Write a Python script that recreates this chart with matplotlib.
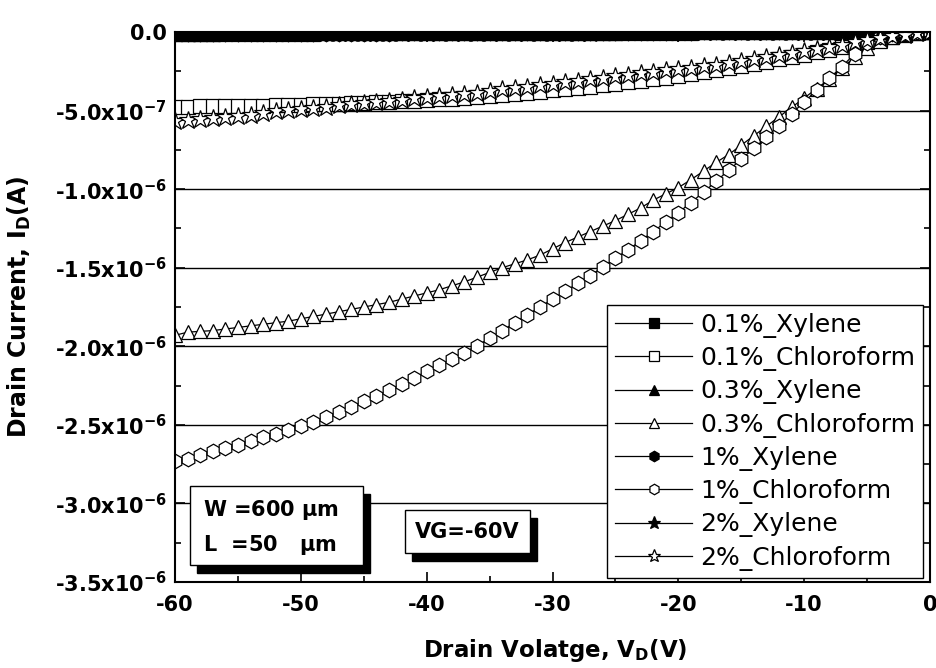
import matplotlib
matplotlib.use("Agg")
import matplotlib.pyplot as plt
from matplotlib.patches import Rectangle
from matplotlib.ticker import MultipleLocator

plt.rcParams["font.family"] = ["DejaVu Sans"]
plt.rcParams["mathtext.default"] = "bf"

# drain voltage sweep (V)
vd = list(range(-60, 1))

# drain currents in uA, one value per volt from -60 V to 0 V
xyl_01 = [-0.012, -0.012, -0.012, -0.011, -0.011, -0.011, -0.011, -0.010, -0.010, -0.010,
          -0.010, -0.010, -0.009, -0.009, -0.009, -0.009, -0.009, -0.008, -0.008, -0.008,
          -0.008, -0.008, -0.007, -0.007, -0.007, -0.007, -0.007, -0.006, -0.006, -0.006,
          -0.006, -0.006, -0.005, -0.005, -0.005, -0.005, -0.005, -0.004, -0.004, -0.004,
          -0.004, -0.004, -0.003, -0.003, -0.003, -0.003, -0.003, -0.002, -0.002, -0.002,
          -0.002, -0.002, -0.001, -0.001, -0.001, -0.001, -0.001, 0.000, 0.000, 0.000,
          0.000]
chl_01 = [-0.475, -0.475, -0.474, -0.473, -0.472, -0.471, -0.470, -0.469, -0.467, -0.465,
          -0.462, -0.460, -0.458, -0.456, -0.453, -0.450, -0.447, -0.444, -0.441, -0.438,
          -0.434, -0.429, -0.424, -0.419, -0.413, -0.407, -0.401, -0.394, -0.387, -0.380,
          -0.372, -0.364, -0.356, -0.348, -0.339, -0.330, -0.321, -0.311, -0.301, -0.291,
          -0.280, -0.268, -0.256, -0.243, -0.230, -0.216, -0.202, -0.188, -0.174, -0.160,
          -0.145, -0.130, -0.114, -0.098, -0.082, -0.066, -0.050, -0.035, -0.021, -0.009,
          -0.001]
xyl_03 = [-0.010, -0.010, -0.010, -0.010, -0.009, -0.009, -0.009, -0.009, -0.009, -0.008,
          -0.008, -0.008, -0.008, -0.008, -0.007, -0.007, -0.007, -0.007, -0.007, -0.006,
          -0.006, -0.006, -0.006, -0.006, -0.006, -0.005, -0.005, -0.005, -0.005, -0.005,
          -0.004, -0.004, -0.004, -0.004, -0.004, -0.004, -0.003, -0.003, -0.003, -0.003,
          -0.003, -0.003, -0.002, -0.002, -0.002, -0.002, -0.002, -0.002, -0.001, -0.001,
          -0.001, -0.001, -0.001, -0.001, 0.000, 0.000, 0.000, 0.000, 0.000, 0.000,
          0.000]
chl_03 = [-1.930, -1.910, -1.905, -1.900, -1.890, -1.880, -1.870, -1.860, -1.850, -1.840,
          -1.825, -1.810, -1.795, -1.780, -1.765, -1.750, -1.735, -1.720, -1.700, -1.680,
          -1.660, -1.640, -1.615, -1.590, -1.560, -1.530, -1.500, -1.475, -1.450, -1.420,
          -1.380, -1.340, -1.305, -1.270, -1.235, -1.200, -1.160, -1.120, -1.070, -1.030,
          -0.990, -0.940, -0.885, -0.830, -0.780, -0.720, -0.660, -0.600, -0.540, -0.480,
          -0.420, -0.360, -0.300, -0.230, -0.160, -0.100, -0.060, -0.030, -0.015, -0.005,
          0.000]
xyl_1 = [-0.014, -0.014, -0.013, -0.013, -0.013, -0.013, -0.012, -0.012, -0.012, -0.012,
         -0.011, -0.011, -0.011, -0.011, -0.010, -0.010, -0.010, -0.010, -0.009, -0.009,
         -0.009, -0.009, -0.008, -0.008, -0.008, -0.008, -0.007, -0.007, -0.007, -0.007,
         -0.006, -0.006, -0.006, -0.006, -0.005, -0.005, -0.005, -0.005, -0.004, -0.004,
         -0.004, -0.004, -0.003, -0.003, -0.003, -0.003, -0.002, -0.002, -0.002, -0.002,
         -0.002, -0.001, -0.001, -0.001, -0.001, -0.001, 0.000, 0.000, 0.000, 0.000,
         0.000]
chl_1 = [-2.730, -2.715, -2.690, -2.665, -2.645, -2.625, -2.600, -2.580, -2.555, -2.530,
         -2.505, -2.480, -2.450, -2.420, -2.385, -2.350, -2.315, -2.280, -2.240, -2.200,
         -2.160, -2.120, -2.080, -2.040, -1.995, -1.950, -1.900, -1.850, -1.800, -1.750,
         -1.700, -1.650, -1.600, -1.550, -1.495, -1.440, -1.385, -1.330, -1.270, -1.210,
         -1.150, -1.085, -1.020, -0.950, -0.880, -0.810, -0.740, -0.670, -0.595, -0.520,
         -0.445, -0.370, -0.295, -0.220, -0.140, -0.070, -0.035, -0.015, -0.005, -0.001,
         0.000]
xyl_2 = [-0.009, -0.009, -0.009, -0.009, -0.008, -0.008, -0.008, -0.008, -0.008, -0.008,
         -0.007, -0.007, -0.007, -0.007, -0.007, -0.007, -0.006, -0.006, -0.006, -0.006,
         -0.006, -0.006, -0.005, -0.005, -0.005, -0.005, -0.005, -0.005, -0.004, -0.004,
         -0.004, -0.004, -0.004, -0.004, -0.003, -0.003, -0.003, -0.003, -0.003, -0.003,
         -0.002, -0.002, -0.002, -0.002, -0.002, -0.002, -0.001, -0.001, -0.001, -0.001,
         -0.001, -0.001, 0.000, 0.000, 0.000, 0.000, 0.000, 0.000, 0.000, 0.000,
         0.000]
chl_2 = [-0.565, -0.560, -0.555, -0.548, -0.542, -0.535, -0.525, -0.515, -0.505, -0.498,
         -0.490, -0.482, -0.475, -0.466, -0.458, -0.452, -0.445, -0.438, -0.430, -0.422,
         -0.415, -0.408, -0.400, -0.393, -0.385, -0.375, -0.365, -0.357, -0.348, -0.340,
         -0.330, -0.320, -0.311, -0.302, -0.292, -0.282, -0.273, -0.263, -0.255, -0.245,
         -0.236, -0.227, -0.217, -0.207, -0.196, -0.185, -0.173, -0.161, -0.149, -0.136,
         -0.122, -0.108, -0.094, -0.080, -0.065, -0.052, -0.039, -0.027, -0.016, -0.007,
         -0.001]

series_names = ["0.1%_Xylene", "0.1%_Chloroform", "0.3%_Xylene", "0.3%_Chloroform",
                "1%_Xylene", "1%_Chloroform", "2%_Xylene", "2%_Chloroform"]
series_data = [xyl_01, chl_01, xyl_03, chl_03, xyl_1, chl_1, xyl_2, chl_2]
series_markers = ["s", "s", "^", "^", "h", "h", "*", "*"]

ytick_vals = [0.0, -5e-7, -1.0e-6, -1.5e-6, -2.0e-6, -2.5e-6, -3.0e-6, -3.5e-6]
ytick_labels = ["0.0", "-5.0x10$^{-7}$", "-1.0x10$^{-6}$", "-1.5x10$^{-6}$",
                "-2.0x10$^{-6}$", "-2.5x10$^{-6}$", "-3.0x10$^{-6}$", "-3.5x10$^{-6}$"]
xtick_vals = [-60, -50, -40, -30, -20, -10, 0]

fig = plt.figure(figsize=(9.36, 6.68), dpi=100)
ax = fig.add_axes([0.187, 0.1287, 0.8066, 0.8234])

for name, vals, mk in zip(series_names, series_data, series_markers):
    face = "black" if "Xylene" in name else "white"
    ms = 13.5 if mk == "*" else 10.5
    ax.plot(vd, [v * 1e-6 for v in vals], color="black", lw=0.9, marker=mk,
            markersize=ms, markerfacecolor=face, markeredgecolor="black",
            markeredgewidth=0.9, label=name)

ax.set_xlim(-60, 0)
ax.set_ylim(-3.5e-6, 0)
ax.set_xticks(xtick_vals)
ax.set_xticklabels([str(t) for t in xtick_vals])
ax.set_yticks(ytick_vals)
ax.set_yticklabels(ytick_labels)
ax.xaxis.set_minor_locator(MultipleLocator(5))
ax.yaxis.set_minor_locator(MultipleLocator(2.5e-7))
ax.tick_params(which="both", direction="in", top=True, right=True, width=1.2,
               labelsize=15)
ax.tick_params(which="major", length=7)
ax.tick_params(which="minor", length=4)
ax.tick_params(axis="x", pad=9)
ax.tick_params(axis="y", pad=6)
for lab in ax.get_xticklabels() + ax.get_yticklabels():
    lab.set_fontweight("bold")
for sp in ax.spines.values():
    sp.set_linewidth(1.5)

ax.set_axisbelow(True)
ax.yaxis.grid(True, which="major", color="black", lw=1.0)

ax.set_xlabel("Drain Volatge, V$_D$(V)", fontsize=16.5, fontweight="bold")
ax.set_ylabel("Drain Current, I$_D$(A)", fontsize=17, fontweight="bold")
ax.xaxis.set_label_coords(0.503, -0.1)
ax.yaxis.set_label_coords(-0.188, 0.5)

leg = ax.legend(loc="lower right", bbox_to_anchor=(0.9907, 0.0073), borderaxespad=0,
                fontsize=18, frameon=True, fancybox=False, framealpha=1,
                edgecolor="black", labelspacing=0.33, handlelength=3.1,
                handletextpad=0.32, borderpad=0.3, markerscale=0.72)
leg.get_frame().set_linewidth(1.0)
leg.set_zorder(5)

# device geometry box with drop shadow
ax.add_patch(Rectangle((0.0292, 0.0164), 0.2291, 0.1436, transform=ax.transAxes,
                       facecolor="black", edgecolor="black", zorder=6))
ax.add_patch(Rectangle((0.0199, 0.0309), 0.2291, 0.1436, transform=ax.transAxes,
                       facecolor="white", edgecolor="black", lw=1.0, zorder=7))
ax.text(0.037, 0.131, "W =600 $\\mu$m", transform=ax.transAxes, fontsize=15,
        fontweight="bold", va="center", ha="left", zorder=8)
ax.text(0.037, 0.067, "L  =50   $\\mu$m", transform=ax.transAxes, fontsize=15,
        fontweight="bold", va="center", ha="left", zorder=8)

# gate voltage box with drop shadow
ax.add_patch(Rectangle((0.3139, 0.0382), 0.1656, 0.0782, transform=ax.transAxes,
                       facecolor="black", edgecolor="black", zorder=6))
ax.add_patch(Rectangle((0.3046, 0.0527), 0.1656, 0.0782, transform=ax.transAxes,
                       facecolor="white", edgecolor="black", lw=1.0, zorder=7))
ax.text(0.3874, 0.0918, "VG=-60V", transform=ax.transAxes, fontsize=15,
        fontweight="bold", va="center", ha="center", zorder=8)

fig.savefig("out.png", dpi=100)
